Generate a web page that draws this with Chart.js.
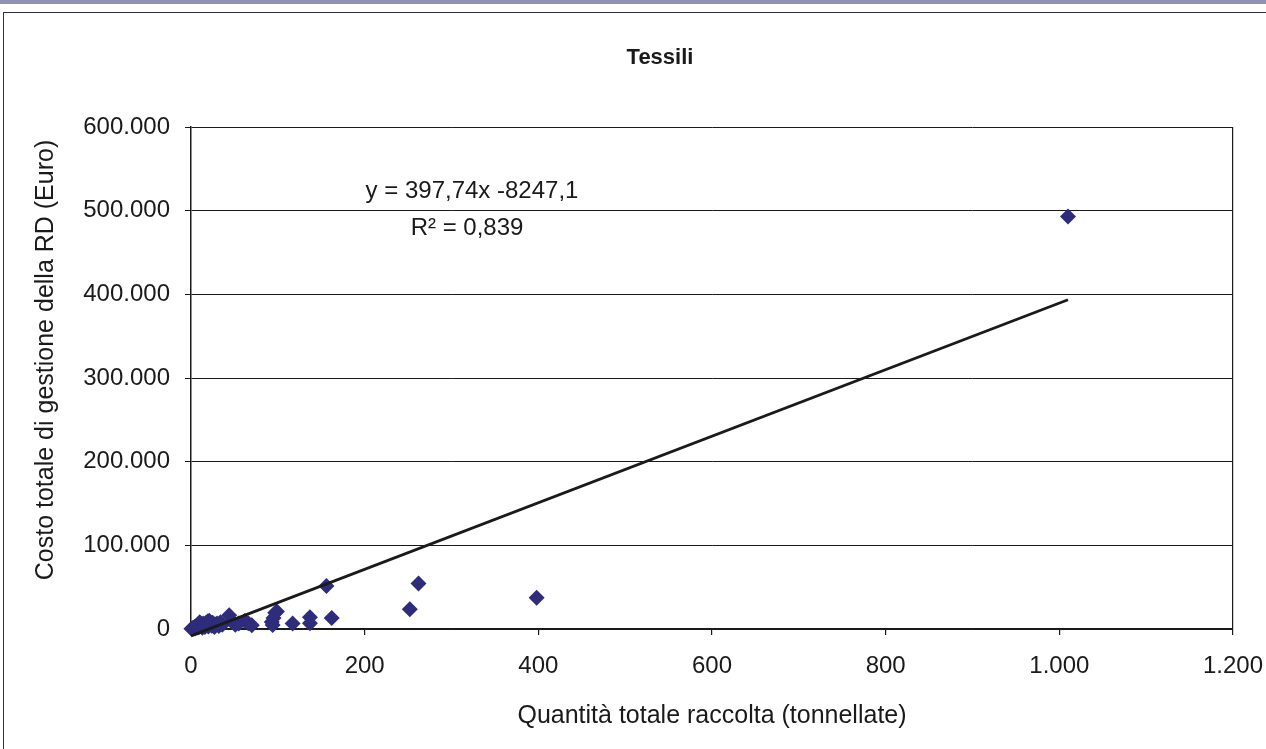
<!DOCTYPE html>
<html>
<head>
<meta charset="utf-8">
<title>Tessili</title>
<script src="https://cdn.jsdelivr.net/npm/chart.js@4/dist/chart.umd.min.js"></script>
<style>
    body { margin: 0; background: #fff; overflow: hidden; }
    .band { position: absolute; left: 0; top: 0; width: 1266px; height: 4px; background: #8f91b5; }
    .frame { position: absolute; left: 3px; top: 12px; width: 1300px; height: 800px; border: 1.5px solid #333; }
    .wrap { position: absolute; left: 0; top: 0; width: 1266px; height: 749px; }
</style>
</head>
<body>
<div class="band"></div>
<div class="frame"></div>
<div class="wrap"><canvas id="chart"></canvas></div>
<script>
// Dati: quantità raccolta (t) e costo totale (Euro)
const quantita = [0.5, 2, 3, 4, 5, 6, 7, 8, 9, 10, 11, 12, 13, 14, 15, 16, 17, 18, 19, 20,
    21, 22, 24, 25, 27, 28, 30, 32, 34, 36, 44, 47, 51, 55, 62, 66, 70,
    93, 94, 95, 97, 99, 117, 137, 137, 156, 162, 252, 262, 398, 1010];
const costo = [300, 1200, 500, 2500, 1000, 3000, 1800, 4500, 2200, 8000, 3500, 5500, 1500, 6500, 4000, 2500, 7000, 5000, 9000, 3000,
    10000, 6000, 4000, 7500, 2500, 5500, 6500, 3500, 8000, 5000, 16500, 9000, 5000, 6500, 9500, 7000, 4500,
    8500, 4800, 13000, 19500, 21000, 6500, 14000, 7000, 51500, 13000, 23500, 54500, 37500, 493000];

// Retta di regressione (dal grafico)
const trendSlope = 397.74;
const trendIntercept = -8247.1;
const trendRange = [0, 1010];
const titleText = 'Tessili';
const yTitleText = 'Costo totale di gestione della RD (Euro)';
const equationText = 'y = 397,74x -8247,1';
const r2Text = 'R² = 0,839';

const xTicks = [0, 200, 400, 600, 800, 1000, 1200];
const yTicks = [0, 100000, 200000, 300000, 400000, 500000, 600000];

const FONT = "'Liberation Sans', Arial, sans-serif";
const INK = '#1a1a1a';

function fmt(v) {
    return String(v).replace(/\B(?=(\d{3})+(?!\d))/g, '.');
}

const points = quantita.map((q, i) => ({ x: q, y: costo[i] }));
const trend = trendRange.map(x => ({ x: x, y: trendSlope * x + trendIntercept }));

// Titolo, titolo asse Y ed etichetta con equazione e R²
const textLabels = {
    id: 'textLabels',
    afterDatasetsDraw(chart) {
        const c = chart.ctx;
        c.save();
        c.fillStyle = INK;
        c.textAlign = 'center';
        c.textBaseline = 'middle';
        c.font = 'bold 22px ' + FONT;
        c.fillText(titleText, 660, 58);
        c.font = '24px ' + FONT;
        c.fillText(equationText, 472, 191);
        c.fillText(r2Text, 467, 228);
        c.translate(46, 360);
        c.rotate(-Math.PI / 2);
        c.font = '25px ' + FONT;
        c.fillText(yTitleText, 0, 0);
        c.restore();
    }
};

new Chart(document.getElementById('chart'), {
    type: 'scatter',
    data: {
        datasets: [
            {
                type: 'line',
                data: trend,
                borderColor: INK,
                borderWidth: 2.8,
                pointRadius: 0,
                fill: false,
                clip: false
            },
            {
                data: points,
                pointStyle: 'rectRot',
                pointRadius: 8,
                backgroundColor: '#2f2c7c',
                borderColor: '#2f2c7c',
                borderWidth: 0,
                clip: false
            }
        ]
    },
    options: {
        responsive: true,
        maintainAspectRatio: false,
        animation: false,
        layout: { padding: { left: 0, right: 33, top: 127, bottom: 0 } },
        plugins: {
            legend: { display: false },
            tooltip: { enabled: false },
            title: { display: false }
        },
        scales: {
            x: {
                type: 'linear',
                min: 0,
                max: 1200,
                afterFit: s => {
                    s.height = 120;
                    s.paddingLeft = 0;
                    s.paddingRight = 0;
                },
                afterBuildTicks: s => { s.ticks = xTicks.map(v => ({ value: v })); },
                ticks: {
                    color: INK,
                    font: { family: FONT, size: 24 },
                    padding: 17,
                    maxRotation: 0,
                    callback: v => fmt(v)
                },
                grid: {
                    color: ctx => (ctx.tick && ctx.tick.value === 1200 ? INK : 'rgba(0,0,0,0)'),
                    tickColor: INK,
                    tickLength: 6,
                    lineWidth: 1.2
                },
                border: { color: INK, width: 1.5 },
                title: {
                    display: true,
                    text: 'Quantità totale raccolta (tonnellate)',
                    color: INK,
                    font: { family: FONT, size: 25 },
                    padding: { bottom: 18 }
                }
            },
            y: {
                min: 0,
                max: 600000,
                afterFit: s => {
                    s.width = 191;
                    s.paddingTop = 0;
                    s.paddingBottom = 0;
                },
                afterBuildTicks: s => { s.ticks = yTicks.map(v => ({ value: v })); },
                ticks: {
                    color: INK,
                    font: { family: FONT, size: 24 },
                    padding: 15,
                    callback: v => fmt(v)
                },
                grid: {
                    color: INK,
                    tickColor: INK,
                    tickLength: 6,
                    lineWidth: 1
                },
                border: { color: INK, width: 1.5 },
                title: { display: false }
            }
        }
    },
    plugins: [textLabels]
});
</script>
</body>
</html>
